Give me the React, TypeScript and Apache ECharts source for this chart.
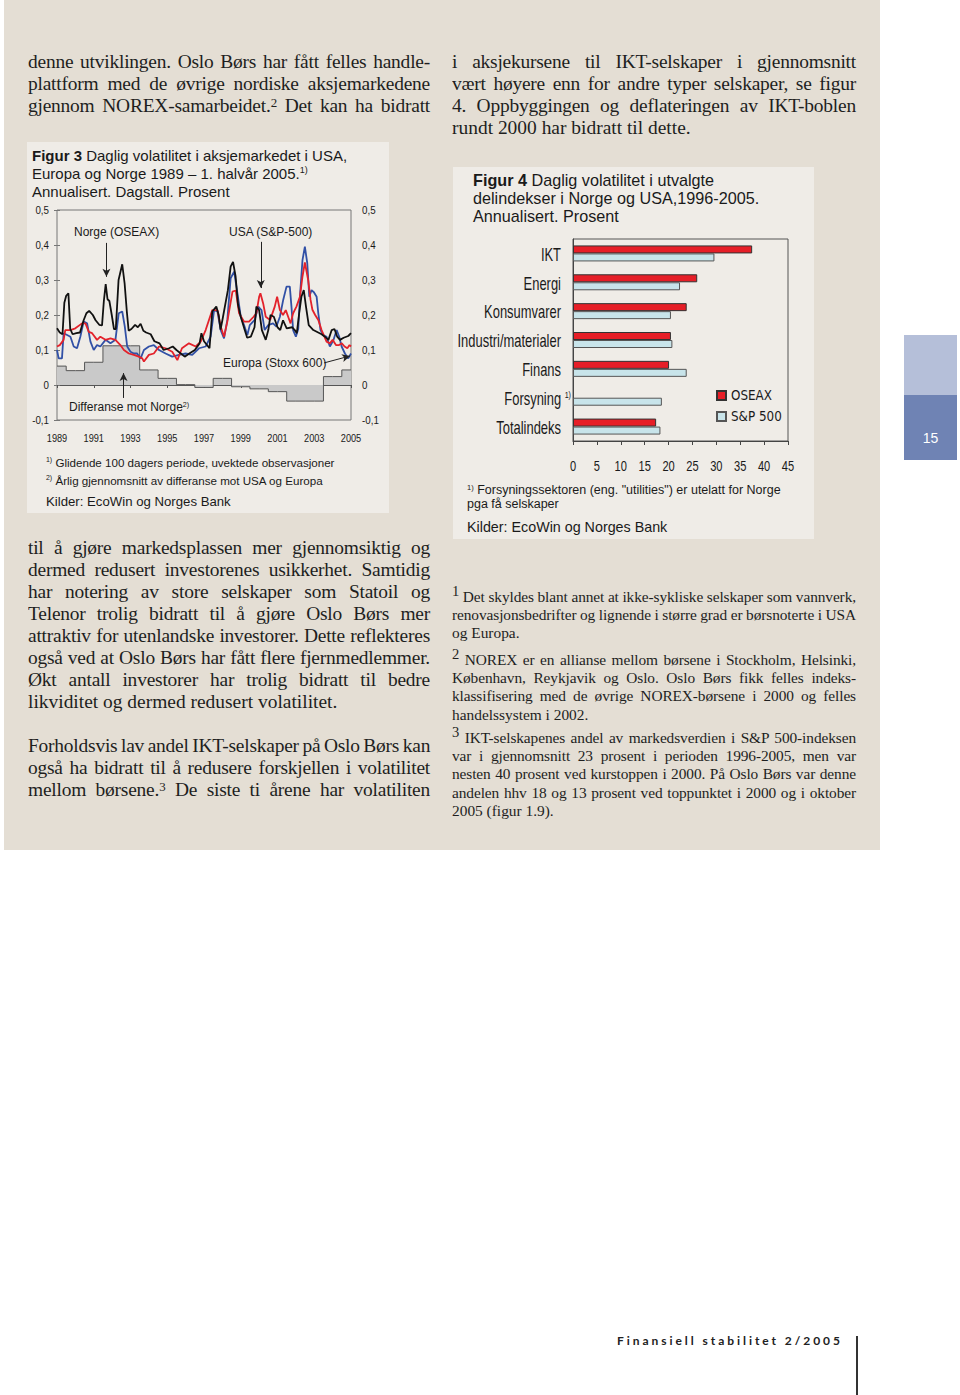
import React, { useEffect, useRef } from "react";
import * as echarts from "echarts";

const SANS = "'Liberation Sans', Arial, Helvetica, sans-serif";
const SERIF = "'Liberation Serif', 'Times New Roman', serif";

// ---------- Figure 3 data: [year, annualised daily volatility] ----------
const norgeSeries: number[][] = [
  [1989.0, 0.162], [1989.15, 0.15], [1989.3, 0.145], [1989.4, 0.235], [1989.5, 0.255], [1989.62, 0.262],
  [1989.72, 0.16], [1989.85, 0.145], [1990.05, 0.148], [1990.25, 0.15], [1990.45, 0.185], [1990.6, 0.205],
  [1990.75, 0.212], [1990.95, 0.2], [1991.1, 0.185], [1991.3, 0.172], [1991.45, 0.17], [1991.55, 0.24],
  [1991.65, 0.288], [1991.75, 0.245], [1991.85, 0.24], [1991.98, 0.2], [1992.1, 0.16], [1992.2, 0.16],
  [1992.35, 0.3], [1992.55, 0.345], [1992.68, 0.29], [1992.8, 0.21], [1992.9, 0.155], [1993.05, 0.16],
  [1993.25, 0.172], [1993.4, 0.165], [1993.55, 0.175], [1993.7, 0.155], [1993.85, 0.15], [1994.1, 0.145],
  [1994.3, 0.125], [1994.58, 0.119], [1994.8, 0.1], [1995.1, 0.105], [1995.3, 0.11], [1995.5, 0.1],
  [1995.95, 0.081], [1996.2, 0.09], [1996.5, 0.1], [1996.76, 0.119], [1996.86, 0.148], [1997.0, 0.125],
  [1997.3, 0.105], [1997.45, 0.21], [1997.67, 0.224], [1997.8, 0.2], [1997.9, 0.158], [1998.0, 0.185],
  [1998.3, 0.271], [1998.45, 0.338], [1998.58, 0.352], [1998.72, 0.31], [1998.85, 0.23], [1999.0, 0.195],
  [1999.2, 0.16], [1999.35, 0.135], [1999.55, 0.138], [1999.75, 0.165], [1999.85, 0.224], [2000.0, 0.214],
  [2000.15, 0.157], [2000.36, 0.129], [2000.5, 0.157], [2000.62, 0.2], [2000.8, 0.195], [2001.0, 0.165],
  [2001.15, 0.157], [2001.3, 0.185], [2001.5, 0.162], [2001.8, 0.165], [2001.94, 0.157], [2002.05, 0.148],
  [2002.18, 0.205], [2002.3, 0.252], [2002.43, 0.271], [2002.55, 0.224], [2002.7, 0.171], [2002.95, 0.157],
  [2003.4, 0.145], [2003.58, 0.138], [2003.77, 0.129], [2003.95, 0.157], [2004.1, 0.16], [2004.25, 0.138],
  [2004.4, 0.129], [2004.6, 0.135], [2004.85, 0.14], [2005.0, 0.148],
];

const usaSeries: number[][] = [
  [1989.0, 0.11], [1989.15, 0.114], [1989.36, 0.129], [1989.45, 0.157], [1989.73, 0.157], [1990.0, 0.162],
  [1990.36, 0.176], [1990.55, 0.176], [1990.73, 0.152], [1990.91, 0.148], [1991.18, 0.129], [1991.36, 0.138],
  [1991.64, 0.129], [1991.91, 0.133], [1992.18, 0.129], [1992.45, 0.114], [1992.64, 0.1], [1992.91, 0.09],
  [1993.18, 0.086], [1993.45, 0.081], [1993.64, 0.076], [1993.73, 0.067], [1994.0, 0.086], [1994.27, 0.09],
  [1994.55, 0.11], [1994.91, 0.105], [1995.27, 0.095], [1995.55, 0.071], [1995.8, 0.105], [1996.18, 0.119],
  [1996.55, 0.11], [1996.82, 0.124], [1997.09, 0.157], [1997.45, 0.214], [1997.73, 0.214], [1997.91, 0.167],
  [1998.09, 0.138], [1998.27, 0.181], [1998.55, 0.267], [1998.73, 0.27], [1998.91, 0.205], [1999.18, 0.181],
  [1999.45, 0.181], [1999.7, 0.195], [1999.85, 0.205], [2000.0, 0.252], [2000.07, 0.262], [2000.22, 0.233],
  [2000.36, 0.195], [2000.6, 0.186], [2000.85, 0.224], [2000.98, 0.252], [2001.13, 0.214], [2001.3, 0.2],
  [2001.45, 0.214], [2001.58, 0.195], [2001.71, 0.176], [2001.85, 0.205], [2002.03, 0.224], [2002.22, 0.252],
  [2002.36, 0.31], [2002.49, 0.35], [2002.67, 0.3], [2002.8, 0.243], [2002.9, 0.215], [2003.05, 0.2],
  [2003.22, 0.186], [2003.4, 0.157], [2003.67, 0.124], [2003.85, 0.119], [2004.0, 0.129], [2004.18, 0.114],
  [2004.35, 0.114], [2004.5, 0.119], [2004.65, 0.11], [2004.8, 0.105], [2004.92, 0.114], [2005.0, 0.11],
];

const europaSeries: number[][] = [
  [1989.0, 0.1], [1989.09, 0.076], [1989.27, 0.076], [1989.36, 0.148], [1989.55, 0.143], [1989.73, 0.138],
  [1989.91, 0.11], [1990.09, 0.105], [1990.27, 0.138], [1990.45, 0.181], [1990.64, 0.176], [1990.82, 0.124],
  [1991.0, 0.1], [1991.18, 0.114], [1991.36, 0.11], [1991.64, 0.129], [1991.91, 0.119], [1992.18, 0.129],
  [1992.36, 0.205], [1992.55, 0.21], [1992.69, 0.167], [1992.82, 0.11], [1993.0, 0.095], [1993.18, 0.09],
  [1993.36, 0.09], [1993.55, 0.076], [1993.73, 0.1], [1994.0, 0.11], [1994.27, 0.114], [1994.55, 0.1],
  [1994.91, 0.09], [1995.27, 0.081], [1995.64, 0.086], [1996.0, 0.09], [1996.36, 0.086], [1996.73, 0.105],
  [1997.09, 0.11], [1997.36, 0.138], [1997.55, 0.214], [1997.73, 0.21], [1997.91, 0.157], [1998.09, 0.133],
  [1998.27, 0.186], [1998.45, 0.305], [1998.64, 0.324], [1998.82, 0.262], [1999.0, 0.195], [1999.18, 0.171],
  [1999.36, 0.143], [1999.49, 0.171], [1999.76, 0.186], [1999.95, 0.224], [2000.13, 0.214], [2000.3, 0.157],
  [2000.49, 0.171], [2000.76, 0.176], [2000.94, 0.167], [2001.13, 0.195], [2001.31, 0.243], [2001.49, 0.281],
  [2001.67, 0.281], [2001.76, 0.224], [2001.85, 0.157], [2002.0, 0.138], [2002.13, 0.16], [2002.22, 0.252],
  [2002.36, 0.357], [2002.49, 0.395], [2002.62, 0.348], [2002.73, 0.252], [2002.85, 0.271], [2002.98, 0.265],
  [2003.13, 0.252], [2003.22, 0.205], [2003.34, 0.157], [2003.49, 0.143], [2003.67, 0.138], [2003.85, 0.11],
  [2004.04, 0.128], [2004.22, 0.157], [2004.36, 0.138], [2004.49, 0.11], [2004.67, 0.09], [2004.85, 0.076],
  [2005.0, 0.09],
];

const diffYears = [1989, 1990, 1991, 1992, 1993, 1994, 1995, 1996, 1997, 1998, 1999, 2000, 2001, 2002, 2003, 2004, 2005];
const diffValues = [0.054, 0.041, 0.065, 0.112, 0.112, 0.043, 0.019, 0.001, -0.007, 0.019, -0.005, -0.011, -0.019, -0.046, -0.046, 0.024, 0.043];

const fig3BaseYear = 1989;
const fig3EndYear = 2005;
const fig3XTickYears = [1989, 1991, 1993, 1995, 1997, 1999, 2001, 2003, 2005];
const fig3YTicks = [-0.1, 0, 0.1, 0.2, 0.3, 0.4, 0.5];
const fig3YTickLabels = ["-0,1", "0", "0,1", "0,2", "0,3", "0,4", "0,5"];

// ---------- Figure 4 data ----------
const sectorCategories = ["IKT", "Energi", "Konsumvarer", "Industri/materialer", "Finans", "Forsyning", "Totalindeks"];
const sectorLabels = ["IKT", "Energi", "Konsumvarer", "Industri/materialer", "Finans", "Forsyning {sup|1)}", "Totalindeks"];
const oseaxValues: (number | null)[] = [37.5, 26.0, 23.8, 20.5, 20.1, null, 17.4];
const sp500Values = [29.6, 22.4, 20.5, 20.8, 23.8, 18.6, 18.3];
const fig4XTicks = [0, 5, 10, 15, 20, 25, 30, 35, 40, 45];

// ---------- Page text ----------
type L = [string, boolean]; // text, justify
const leftTop: L[] = [
  ["denne utviklingen. Oslo Børs har fått felles handle-", true],
  ["plattform med de øvrige nordiske aksjemarkedene", true],
  ["gjennom NOREX-samarbeidet.^2 Det kan ha bidratt", true],
];
const rightTop: L[] = [
  ["i aksjekursene til IKT-selskaper i gjennomsnitt", true],
  ["vært høyere enn for andre typer selskaper, se figur", true],
  ["4. Oppbyggingen og deflateringen av IKT-boblen", true],
  ["rundt 2000 har bidratt til dette.", false],
];
const leftBottom1: L[] = [
  ["til å gjøre markedsplassen mer gjennomsiktig og", true],
  ["dermed redusert investorenes usikkerhet. Samtidig", true],
  ["har notering av store selskaper som Statoil og", true],
  ["Telenor trolig bidratt til å gjøre Oslo Børs mer", true],
  ["attraktiv for utenlandske investorer. Dette reflekteres", true],
  ["også ved at Oslo Børs har fått flere fjernmedlemmer.", true],
  ["Økt antall investorer har trolig bidratt til bedre", true],
  ["likviditet og dermed redusert volatilitet.", false],
];
const leftBottom2: L[] = [
  ["Forholdsvis lav andel IKT-selskaper på Oslo Børs kan", true],
  ["også ha bidratt til å redusere forskjellen i volatilitet", true],
  ["mellom børsene.^3 De siste ti årene har volatiliten", true],
];
const note1: L[] = [
  ["^1 Det skyldes blant annet at ikke-sykliske selskaper som vannverk,", true],
  ["renovasjonsbedrifter og lignende i større grad er børsnoterte i USA", true],
  ["og Europa.", false],
];
const note2: L[] = [
  ["^2 NOREX er en allianse mellom børsene i Stockholm, Helsinki,", true],
  ["København, Reykjavik og Oslo. Oslo Børs fikk felles indeks-", true],
  ["klassifisering med de øvrige NOREX-børsene i 2000 og felles", true],
  ["handelssystem i 2002.", false],
];
const note3: L[] = [
  ["^3 IKT-selskapenes andel av markedsverdien i S&P 500-indeksen", true],
  ["var i gjennomsnitt 23 prosent i perioden 1996-2005, men var", true],
  ["nesten 40 prosent ved kurstoppen i 2000. På Oslo Børs var denne", true],
  ["andelen hhv 18 og 13 prosent ved toppunktet i 2000 og i oktober", true],
  ["2005 (figur 1.9).", false],
];

function renderText(t: string, supSize: number) {
  const parts = t.split(/\^(\d)/);
  return parts.map((p, i) =>
    i % 2 === 1 ? (
      <span key={i} style={{ fontSize: supSize, position: "relative", top: -supSize * 0.42, lineHeight: 0 }}>{p}</span>
    ) : (
      <React.Fragment key={i}>{p}</React.Fragment>
    )
  );
}

function Block(props: { lines: L[]; x: number; y: number; w: number; lh: number; size: number; supSize: number; sx: number; ws: number; ls: number }) {
  const { lines, x, y, w, lh, size, supSize, sx, ws, ls } = props;
  return (
    <>
      {lines.map(([t, j], i) => (
        <div
          key={i}
          style={{
            position: "absolute",
            left: x,
            top: y + i * lh - lh / 2,
            width: w / sx,
            height: lh,
            lineHeight: lh + "px",
            fontFamily: SERIF,
            fontSize: size,
            color: "#1e1e1e",
            whiteSpace: "nowrap",
            wordSpacing: j ? ws + "px" : "0px",
            letterSpacing: j ? ls + "px" : "0px",
            textAlign: j ? "justify" : "left",
            textAlignLast: j ? "justify" : "left",
            transform: `scaleX(${sx})`,
            transformOrigin: "0 50%",
          } as React.CSSProperties}
        >
          {renderText(t, supSize)}
        </div>
      ))}
    </>
  );
}

// condensed-looking label: Liberation Sans squeezed horizontally
const condText = (id: string, x: number, y: number, text: string, size: number, sx: number, align: string) => ({
  type: "text",
  id,
  x,
  y,
  scaleX: sx,
  silent: true,
  style: {
    text,
    fill: "#1a1a1a",
    fontFamily: SANS,
    fontSize: size,
    textAlign: align,
    textVerticalAlign: "middle",
    rich: { sup: { fontSize: size * 0.55, fontFamily: SANS, verticalAlign: "top", fill: "#1a1a1a" } },
  },
});

const plainText = (id: string, x: number, y: number, text: string, size: number) => ({
  type: "text",
  id,
  x,
  y,
  silent: true,
  style: {
    text,
    fill: "#1a1a1a",
    fontFamily: SANS,
    fontSize: size,
    textVerticalAlign: "middle",
    rich: {
      b: { fontWeight: "bold", fontSize: size, fontFamily: SANS, fill: "#1a1a1a" },
      sup: { fontSize: size * 0.6, fontFamily: SANS, verticalAlign: "top", fill: "#1a1a1a" },
    },
  },
});

function buildFig3(): any {
  const toXY = (s: number[][]) => s.map(([yr, v]) => [yr - fig3BaseYear, v]);
  const diffData = diffYears.map((yr, i) => [yr - fig3BaseYear, diffValues[i]]);
  const span = fig3EndYear - fig3BaseYear;
  const yAxisBase = (pos: "left" | "right") => ({
    type: "value",
    position: pos,
    min: fig3YTicks[0],
    max: fig3YTicks[fig3YTicks.length - 1],
    interval: 0.1,
    axisLine: { show: false },
    axisTick: { show: true, inside: true, length: 3, lineStyle: { color: "#777" } },
    splitLine: { show: false },
    axisLabel: { show: false },
  });
  const arrowLine = (a: number[], b: number[]) => [
    { coord: [a[0] - fig3BaseYear, a[1]] },
    { coord: [b[0] - fig3BaseYear, b[1]] },
  ];
  return {
    animation: false,
    backgroundColor: "#efece7",
    grid: { left: 30, top: 68, width: 294, height: 210, show: true, borderColor: "#777", borderWidth: 1, backgroundColor: "transparent", outerBoundsMode: "none" },
    xAxis: [
      {
        type: "value", min: 0, max: span, interval: 2, position: "bottom",
        axisLine: { show: false, onZero: false }, axisTick: { show: false }, splitLine: { show: false },
        axisLabel: { show: false },
      },
      {
        type: "value", min: 0, max: span, interval: 2, position: "bottom",
        axisLine: { show: true, onZero: true, lineStyle: { color: "#555", width: 1 } },
        axisTick: { show: true, length: 3, lineStyle: { color: "#555" } },
        axisLabel: { show: false }, splitLine: { show: false },
      },
    ],
    yAxis: [yAxisBase("left"), yAxisBase("right")],
    series: [
      {
        type: "line", name: "Differanse mot Norge", data: diffData, step: "middle", showSymbol: false,
        lineStyle: { color: "#555", width: 1 }, areaStyle: { color: "#c9c9c9", opacity: 1 }, z: 1,
        markLine: {
          silent: true, symbol: ["none", "arrow"], symbolSize: [6, 8],
          lineStyle: { color: "#222", width: 1, type: "solid" }, label: { show: false },
          data: [
            arrowLine([1991.69, 0.406], [1991.69, 0.309]),
            arrowLine([2000.09, 0.409], [2000.09, 0.277]),
            arrowLine([2003.53, 0.063], [2004.95, 0.083]),
            arrowLine([1992.62, -0.037], [1992.62, 0.034]),
          ],
        },
      },
      { type: "line", name: "Europa (Stoxx 600)", data: toXY(europaSeries), showSymbol: false, lineStyle: { color: "#3150a6", width: 1.8 }, z: 2 },
      { type: "line", name: "USA (S&P-500)", data: toXY(usaSeries), showSymbol: false, lineStyle: { color: "#e3222b", width: 1.8 }, z: 3 },
      { type: "line", name: "Norge (OSEAX)", data: toXY(norgeSeries), showSymbol: false, lineStyle: { color: "#111", width: 1.8 }, z: 4 },
    ],
    graphic: [
      plainText("t1", 5, 13, "{b|Figur 3} Daglig volatilitet i aksjemarkedet i USA,", 15),
      plainText("t2", 5, 31, "Europa og Norge 1989 – 1. halvår 2005.{sup|1)}", 15),
      plainText("t3", 5, 49, "Annualisert. Dagstall. Prosent", 15),
      plainText("a1", 47, 90, "Norge (OSEAX)", 12),
      plainText("a2", 202, 90, "USA (S&P-500)", 12),
      plainText("a3", 196, 221, "Europa (Stoxx 600)", 12),
      plainText("a4", 42, 265, "Differanse mot Norge{sup|2)}", 12),
      plainText("n1", 19, 320, "{sup|1)} Glidende 100 dagers periode, uvektede observasjoner", 11.6),
      plainText("n2", 19, 338, "{sup|2)} Årlig gjennomsnitt av differanse mot USA og Europa", 11.6),
      plainText("n3", 19, 359, "Kilder: EcoWin og Norges Bank", 13.2),
    ],
  };
}

function fig3AxisLabels(chart: any): any[] {
  const out: any[] = [];
  const span = fig3EndYear - fig3BaseYear;
  const yBottom = chart.convertToPixel({ yAxisIndex: 0 }, fig3YTicks[0]);
  const xLeft = chart.convertToPixel({ xAxisIndex: 0 }, 0);
  const xRight = chart.convertToPixel({ xAxisIndex: 0 }, span);
  fig3XTickYears.forEach((yr, i) => {
    const x = chart.convertToPixel({ xAxisIndex: 0 }, yr - fig3BaseYear);
    out.push(condText("xl" + i, x, yBottom + 18, String(yr), 11.5, 0.8, "center"));
  });
  fig3YTicks.forEach((v, i) => {
    const y = chart.convertToPixel({ yAxisIndex: 0 }, v);
    out.push(condText("yl" + i, xLeft - 8, y, fig3YTickLabels[i], 11.5, 0.85, "right"));
    out.push(condText("yr" + i, xRight + 11, y, fig3YTickLabels[i], 11.5, 0.85, "left"));
  });
  return out;
}

function buildFig4(): any {
  return {
    animation: false,
    backgroundColor: "#efece7",
    grid: { left: 120, top: 72, width: 215, height: 202, show: true, borderColor: "#555", borderWidth: 1, backgroundColor: "transparent", outerBoundsMode: "none" },
    legend: {
      orient: "vertical", left: 263, top: 222, padding: 0, itemWidth: 9, itemHeight: 9, itemGap: 8, icon: "rect",
      data: ["OSEAX", "S&P 500"],
      textStyle: { fontFamily: "'DejaVu Sans Condensed', " + SANS, fontSize: 13.3, color: "#1a1a1a" },
    },
    xAxis: {
      type: "value", min: fig4XTicks[0], max: fig4XTicks[fig4XTicks.length - 1], interval: 5,
      axisLine: { show: true, lineStyle: { color: "#444" } },
      axisTick: { show: true, length: 4, lineStyle: { color: "#444" } },
      splitLine: { show: false },
      axisLabel: { show: false },
    },
    yAxis: {
      type: "category", inverse: true, data: sectorCategories,
      axisLine: { show: true, lineStyle: { color: "#444" } },
      axisTick: { show: false },
      axisLabel: { show: false },
    },
    series: [
      { type: "bar", name: "OSEAX", data: oseaxValues, barWidth: 8, barGap: "0%", itemStyle: { color: "#e61e27", borderColor: "#333", borderWidth: 1 } },
      { type: "bar", name: "S&P 500", data: sp500Values, barWidth: 8, barGap: "0%", itemStyle: { color: "#c8e4ea", borderColor: "#555", borderWidth: 1 } },
    ],
    graphic: [
      plainText("t1", 20, 13, "{b|Figur 4} Daglig volatilitet i utvalgte", 16.2),
      plainText("t2", 20, 31, "delindekser i Norge og USA,1996-2005.", 16.2),
      plainText("t3", 20, 49, "Annualisert. Prosent", 16.2),
      plainText("n1", 14, 323, "{sup|1)} Forsyningssektoren (eng. \"utilities\") er utelatt for Norge", 12.5),
      plainText("n2", 14, 337, "pga få selskaper", 12.5),
      plainText("n3", 14, 360, "Kilder: EcoWin og Norges Bank", 14.3),
    ],
  };
}

function fig4AxisLabels(chart: any): any[] {
  const out: any[] = [];
  const xAxis0 = chart.convertToPixel({ xAxisIndex: 0 }, fig4XTicks[0]);
  const firstY = chart.convertToPixel({ yAxisIndex: 0 }, sectorCategories[0]);
  const secondY = chart.convertToPixel({ yAxisIndex: 0 }, sectorCategories[1]);
  const band = secondY - firstY;
  const lastY = chart.convertToPixel({ yAxisIndex: 0 }, sectorCategories[sectorCategories.length - 1]);
  const bottom = lastY + band / 2;
  sectorCategories.forEach((c, i) => {
    const y = chart.convertToPixel({ yAxisIndex: 0 }, c);
    const hasSup = sectorLabels[i] !== c;
    out.push(condText("cl" + i, xAxis0 - (hasSup ? 2 : 12), y + 1, sectorLabels[i], 17.5, 0.74, "right"));
  });
  fig4XTicks.forEach((v, i) => {
    const x = chart.convertToPixel({ xAxisIndex: 0 }, v);
    out.push(condText("xl" + i, x, bottom + 25, String(v), 15, 0.74, "center"));
  });
  return out;
}

export default function App() {
  const fig3Ref = useRef<HTMLDivElement>(null);
  const fig4Ref = useRef<HTMLDivElement>(null);

  useEffect(() => {
    const c3 = echarts.init(fig3Ref.current as HTMLDivElement, null, { renderer: "svg" });
    const o3 = buildFig3();
    c3.setOption(o3);
    c3.setOption({ graphic: [...o3.graphic, ...fig3AxisLabels(c3)] });
    const c4 = echarts.init(fig4Ref.current as HTMLDivElement, null, { renderer: "svg" });
    const o4 = buildFig4();
    c4.setOption(o4);
    c4.setOption({ graphic: [...o4.graphic, ...fig4AxisLabels(c4)] });
    return () => {
      c3.dispose();
      c4.dispose();
    };
  }, []);

  return (
    <div style={{ position: "absolute", left: 0, top: 0, width: 960, height: 1395, background: "#ffffff", overflow: "hidden" }}>
      <div style={{ position: "absolute", left: 4, top: 0, width: 876, height: 850, background: "#e4ded4" }} />
      <Block lines={leftTop} x={28} y={62} w={402} lh={22} size={18} supSize={12} sx={1.08} ws={-1} ls={-0.2} />
      <Block lines={rightTop} x={452} y={62} w={404} lh={22} size={18} supSize={12} sx={1.08} ws={-1} ls={-0.2} />
      <Block lines={leftBottom1} x={28} y={548} w={402} lh={22} size={18} supSize={12} sx={1.08} ws={-1} ls={-0.2} />
      <Block lines={leftBottom2} x={28} y={746} w={402} lh={22} size={18} supSize={12} sx={1.08} ws={-1} ls={-0.2} />
      <Block lines={note1} x={452} y={597} w={404} lh={18.3} size={14.8} supSize={14} sx={1.04} ws={-1} ls={-0.1} />
      <Block lines={note2} x={452} y={660} w={404} lh={18.3} size={14.8} supSize={14} sx={1.04} ws={-1} ls={-0.1} />
      <Block lines={note3} x={452} y={738} w={404} lh={18.3} size={14.8} supSize={14} sx={1.04} ws={-1} ls={-0.1} />

      <div ref={fig3Ref} style={{ position: "absolute", left: 27, top: 142, width: 362, height: 371 }} />
      <div ref={fig4Ref} style={{ position: "absolute", left: 453, top: 167, width: 361, height: 372 }} />

      <div style={{ position: "absolute", left: 904, top: 335, width: 53, height: 60, background: "#b5bfd9" }} />
      <div style={{ position: "absolute", left: 904, top: 395, width: 53, height: 65, background: "#6f83b4" }} />
      <div style={{ position: "absolute", left: 904, top: 428, width: 53, height: 20, lineHeight: "20px", textAlign: "center", color: "#fff", fontFamily: SANS, fontSize: 14 }}>15</div>

      <div style={{ position: "absolute", left: 617, top: 1333, height: 16, lineHeight: "16px", whiteSpace: "nowrap", fontFamily: "Lato, 'Open Sans', sans-serif", fontWeight: 700, fontSize: 12, letterSpacing: "2.95px", color: "#222" }}>
        Finansiell stabilitet 2/2005
      </div>
      <div style={{ position: "absolute", left: 856, top: 1336, width: 1.5, height: 59, background: "#333" }} />
    </div>
  );
}
